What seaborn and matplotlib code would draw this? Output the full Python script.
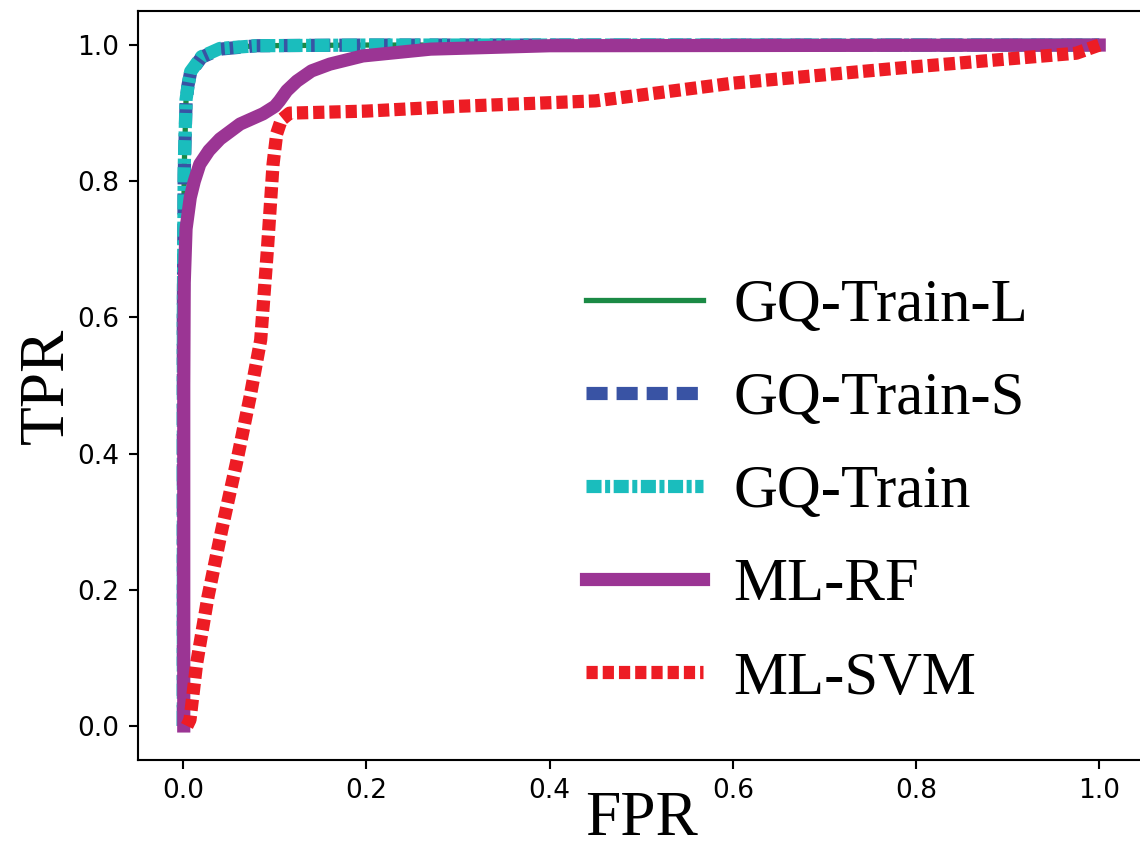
import numpy as np
import pandas as pd
import seaborn as sns
import matplotlib.pyplot as plt

# ROC curve points
fpr_gq_l = [0.0, 0.0, 0.001, 0.003, 0.0055, 0.008, 0.02, 0.04, 0.08, 0.2, 1.0]
tpr_gq_l = [0.0, 0.6, 0.82, 0.92, 0.943, 0.961, 0.983, 0.995, 0.999, 1.0, 1.0]

fpr_gq_s = [0.0, 0.0, 0.001, 0.003, 0.005, 0.008, 0.02, 0.04, 0.08, 0.2, 1.0]
tpr_gq_s = [0.0, 0.6, 0.81, 0.915, 0.94, 0.96, 0.982, 0.994, 0.999, 1.0, 1.0]

fpr_gq = [0.0, 0.0, 0.001, 0.003, 0.0055, 0.008, 0.02, 0.04, 0.08, 0.2, 1.0]
tpr_gq = [0.0, 0.6, 0.82, 0.92, 0.943, 0.961, 0.983, 0.995, 0.999, 1.0, 1.0]

fpr_rf = [0.0005, 0.0005, 0.001, 0.003, 0.0076, 0.012, 0.018, 0.028, 0.04, 0.062,
          0.087, 0.1, 0.105, 0.113, 0.124, 0.14, 0.16, 0.196, 0.27, 0.4, 1.0]
tpr_rf = [0.0, 0.5, 0.65, 0.73, 0.776, 0.80, 0.825, 0.845, 0.862, 0.884,
          0.899, 0.91, 0.918, 0.933, 0.947, 0.962, 0.972, 0.984, 0.994, 0.999, 1.0]

fpr_svm = [0.004, 0.0073, 0.0146, 0.027, 0.042, 0.058, 0.073, 0.0845, 0.092, 0.098,
           0.102, 0.107, 0.116, 0.2, 0.3, 0.45, 0.6, 0.78, 0.975, 1.0]
tpr_svm = [0.0, 0.009, 0.092, 0.19, 0.288, 0.386, 0.484, 0.567, 0.703, 0.825,
           0.87, 0.89, 0.90, 0.903, 0.91, 0.918, 0.944, 0.966, 0.988, 1.0]

names = ['GQ-Train-L', 'GQ-Train-S', 'GQ-Train', 'ML-RF', 'ML-SVM']
curves = [(fpr_gq_l, tpr_gq_l), (fpr_gq_s, tpr_gq_s), (fpr_gq, tpr_gq),
          (fpr_rf, tpr_rf), (fpr_svm, tpr_svm)]
colors = ['#1b8a45', '#3953a4', '#1abdbd', '#9b3594', '#ed1c24']
widths = [2.0, 5.0, 5.0, 5.0, 5.0]
dash_styles = [None, (1.6, 0.68), (1.14, 0.27, 0.38, 0.27), None, (0.85, 0.38)]

fig = plt.figure(figsize=(6, 850 / 190), dpi=190)
ax = fig.add_axes([137.5 / 1140, 90 / 850, 1007.5 / 1140, 749 / 850])

for name, (fx, ty), c, lw, ds in zip(names, curves, colors, widths, dash_styles):
    df = pd.DataFrame({'FPR': fx, 'TPR': ty})
    kw = {} if ds is None else {'dashes': ds}
    sns.lineplot(data=df, x='FPR', y='TPR', ax=ax, color=c, linewidth=lw,
                 estimator=None, sort=False, label=name, **kw)

ax.set_xlim(-0.05, 1.05)
ax.set_ylim(-0.05, 1.05)
ax.set_xticks(np.arange(0, 1.01, 0.2))
ax.set_yticks(np.arange(0, 1.01, 0.2))
ax.spines['right'].set_visible(False)
ax.set_xlabel('FPR', fontsize=24, family='Liberation Serif', labelpad=-5)
ax.set_ylabel('TPR', fontsize=24, family='Liberation Serif', labelpad=0)

ax.legend(loc='center left', bbox_to_anchor=(0.421, 0.357), borderaxespad=0,
          frameon=False, handlelength=1.93, handletextpad=0.5, labelspacing=0.62,
          prop={'family': 'Liberation Serif', 'size': 23})

fig.savefig('out.png', dpi=190)
